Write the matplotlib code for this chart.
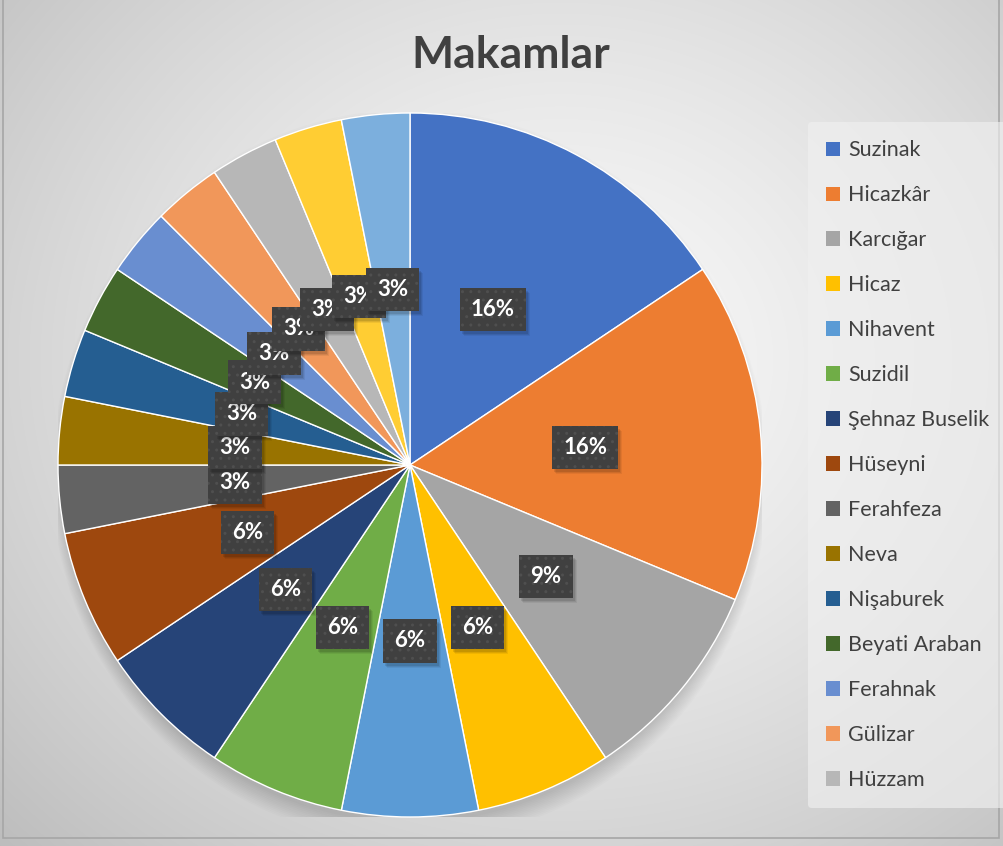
import numpy as np
import matplotlib
matplotlib.use("Agg")
import matplotlib.pyplot as plt
from matplotlib.patches import Patch, Rectangle, Ellipse
from matplotlib.transforms import IdentityTransform

plt.rcParams['font.family'] = ['Lato', 'DejaVu Sans']

categories = ["Suzinak", "Hicazkâr", "Karcığar", "Hicaz", "Nihavent", "Suzidil",
              "Şehnaz Buselik", "Hüseyni", "Ferahfeza", "Neva", "Nişaburek",
              "Beyati Araban", "Ferahnak", "Gülizar", "Hüzzam", "Diğer 1", "Diğer 2"]
values = [5, 5, 3, 2, 2, 2, 2, 2, 1, 1, 1, 1, 1, 1, 1, 1, 1]
colors = ["#4472C4", "#ED7D31", "#A5A5A5", "#FFC000", "#5B9BD5", "#70AD47",
          "#264478", "#9E480E", "#636363", "#997300", "#255E91", "#43682B",
          "#698ED0", "#F1975A", "#B7B7B7", "#FFCD33", "#7CAFDD"]
legend_count = 15

W, H = 1004, 846
fig = plt.figure(figsize=(W / 100, H / 100), dpi=100)

# background radial gradient
bg = fig.add_axes([0, 0, 1, 1])
yy, xx = np.mgrid[0:H, 0:W]
cx, cy = 560, 360
d = np.sqrt(((xx - cx) / 700.0) ** 2 + ((yy - cy) / 620.0) ** 2)
v = np.clip(0.975 - 0.2 * d ** 1.4, 0.74, 1)
img = np.dstack([v, v, v])
bg.imshow(img, extent=[0, W, H, 0], aspect='auto')
bg.set_xlim(0, W)
bg.set_ylim(H, 0)
bg.add_patch(Rectangle((3, -2), 996, 840, fill=False, edgecolor='#a6a6a6', lw=1.2))
bg.axis('off')

# pie axes
pcx, pcy, R = 410, 465, 352
ax = fig.add_axes([(pcx - R) / W, (H - pcy - R) / H, 2 * R / W, 2 * R / H])
ax.axis('off')

# soft shadow below the pie
for i in range(12):
    ax.add_patch(Ellipse((0, -0.03), 2 * (0.985 + 0.003 * i), 2 * (0.985 + 0.005 * i),
                         color='black', alpha=0.012, lw=0, zorder=0))

wedges, texts, autotexts = ax.pie(
    values, colors=colors, startangle=90, counterclock=False, radius=1,
    autopct=lambda p: f"{p:.0f}%", pctdistance=0.5,
    wedgeprops=dict(edgecolor='white', linewidth=1.0),
    textprops=dict(color='white', fontsize=16, fontweight='bold'))
ax.set_xlim(-1, 1)
ax.set_ylim(-1, 1)

for i, t in enumerate(autotexts):
    t.set_zorder(4 + 2 * i)
    t.set_bbox(dict(boxstyle='square,pad=0.5', facecolor='#404040', edgecolor='#4f4f4f',
                    hatch='..', lw=0))

# title
fig.text(511 / W, 1 - 55 / H, "Makamlar", ha='center', va='center',
         fontsize=32, fontweight='bold', color='#404040')

# legend
handles = [Patch(facecolor=colors[i], edgecolor='none') for i in range(legend_count)]
leg = fig.legend(handles, categories[:legend_count], loc='upper left',
                 bbox_to_anchor=(808 / W, 1 - 122 / H), borderaxespad=0, frameon=True,
                 fontsize=15.5, labelspacing=1.16, handlelength=0.65, handleheight=0.65,
                 handletextpad=0.35, borderpad=0.85, labelcolor='#404040')
fr = leg.get_frame()
fr.set_facecolor('#f0f0f0')
fr.set_alpha(0.65)
fr.set_edgecolor('none')

# label shadows (drawn after layout is known)
fig.canvas.draw()
for i, t in enumerate(autotexts):
    bb = t.get_bbox_patch().get_window_extent()
    for k, a in enumerate([0.10, 0.08, 0.06]):
        ax.add_patch(Rectangle((bb.x0 + 2 + k, bb.y0 - 3 - k), bb.width, bb.height,
                               transform=IdentityTransform(), facecolor='black',
                               alpha=a, lw=0, zorder=3 + 2 * i))

fig.savefig('out.png', dpi=100)
